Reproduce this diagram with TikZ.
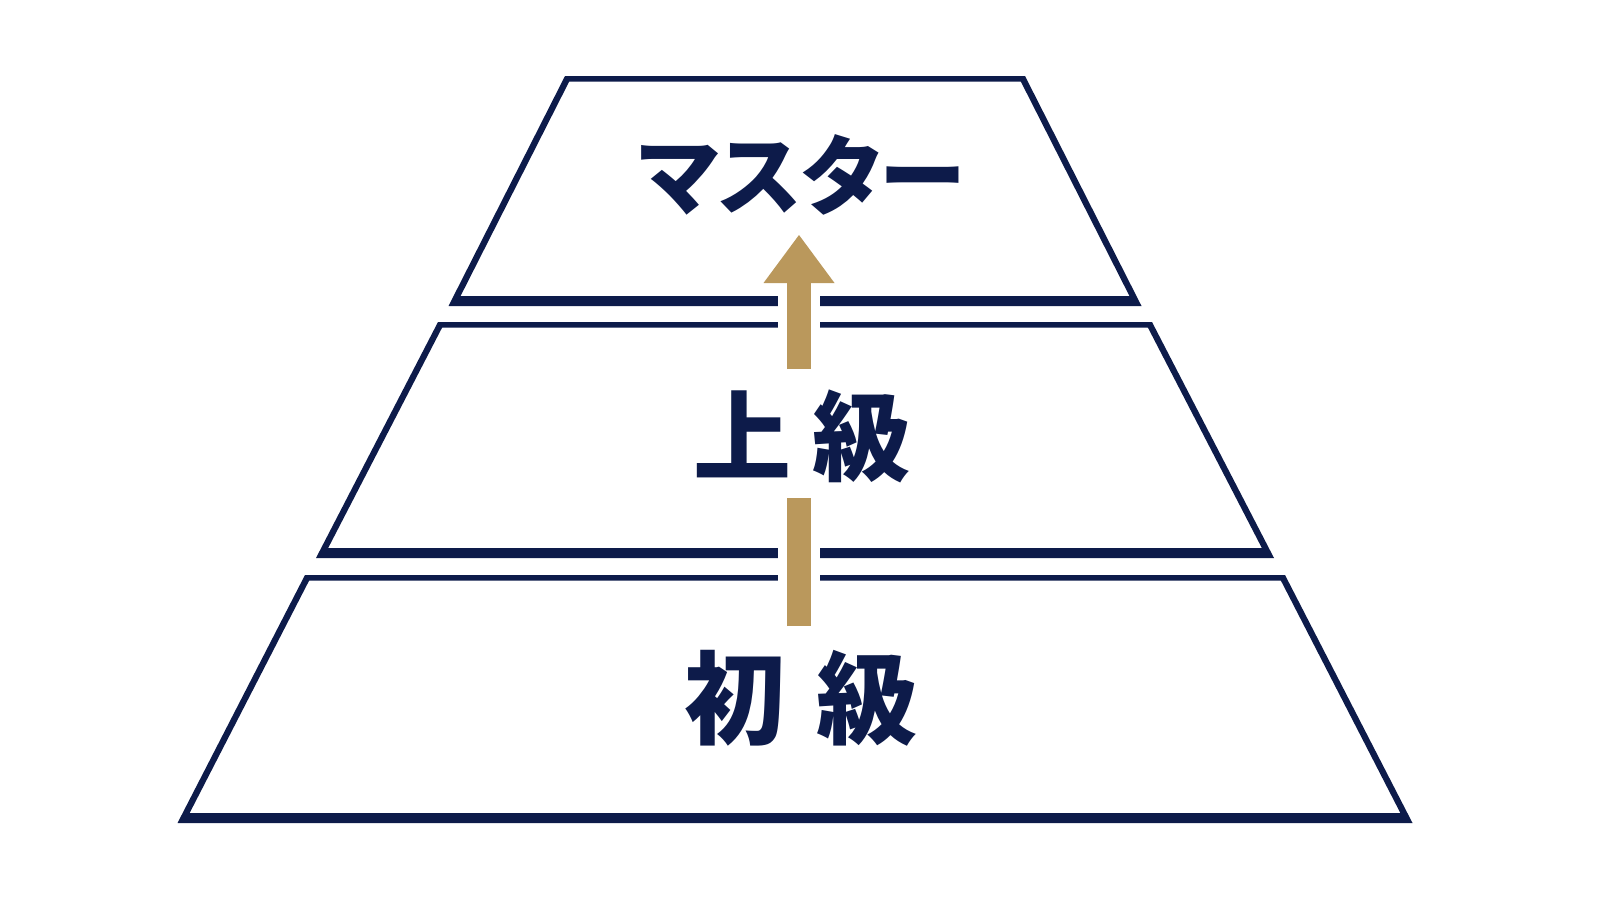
\documentclass[tikz,border=0pt]{standalone}
\usepackage{fontspec}
\newfontfamily\jpfont{Noto Sans CJK JP}
\newfontfamily\jppfont{Noto Sans CJK JP}[RawFeature=+palt]
\usetikzlibrary{arrows.meta}
\definecolor{navy}{RGB}{13,27,74}
\definecolor{gold}{RGB}{186,152,92}
\begin{document}
\begin{tikzpicture}[x=1pt,y=-1pt]
  \tikzstyle{tier}=[fill=navy,even odd rule]
  \tikzstyle{rank}=[text=navy,inner sep=0pt,font=\jpfont\bfseries\fontsize{98}{98}\selectfont]
  \tikzstyle{shaft}=[draw=gold,line width=24pt]
  \useasboundingbox[fill=white] (0,0) rectangle (1600,900);
  % three tiers: top y / bottom y / top half width / bottom half width
  \foreach \yt/\yb/\wt/\wb in {76/306/230/346.5, 322/558/357/479, 575/823/490/617.5} {
    \pgfmathsetmacro\s{(\wb-\wt)/(\yb-\yt)}
    \fill[tier] (795-\wt,\yt) -- (795+\wt,\yt) -- (795+\wb,\yb) -- (795-\wb,\yb) -- cycle
      ({795-\wt-5.5*\s+7},\yt+5.5) -- ({795+\wt+5.5*\s-7},\yt+5.5)
      -- ({795+\wb-10*\s-7},\yb-10) -- ({795-\wb+10*\s+7},\yb-10) -- cycle;
  }
  \fill[white] (778,290) rectangle (820,586);
  \node[rank,font=\jppfont\bfseries\fontsize{87}{87}\selectfont] (master) at (802,175) {マスター};
  \node[rank] (upper) at (802,436) {上\hspace{0.22em}級};
  \node[rank,font=\jpfont\bfseries\fontsize{101}{101}\selectfont] (beginner) at (801,698) {初\hspace{0.3em}級};
  \coordinate (uptail) at (799,369);
  \coordinate (uptip) at (799,235);
  \coordinate (lowtail) at (799,626);
  \coordinate (lowhead) at (799,498);
  \draw[shaft,-{Triangle[width=71pt,length=48pt,line width=0pt]}] (uptail) -- (uptip);
  \draw[shaft] (lowtail) -- (lowhead);
\end{tikzpicture}
\end{document}
